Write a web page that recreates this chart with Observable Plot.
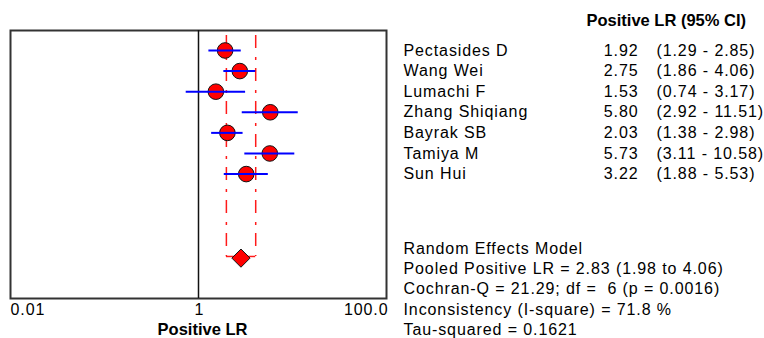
<!DOCTYPE html>
<html>
<head>
<meta charset="utf-8">
<script src="https://cdn.jsdelivr.net/npm/d3@7"></script>
<script src="https://cdn.jsdelivr.net/npm/@observablehq/plot@0.6"></script>
<style>
  html, body { margin: 0; padding: 0; background: #fff; }
  svg text { white-space: pre; }
  g[font-weight="bold"] text { letter-spacing: 0; }
</style>
</head>
<body>
<div id="chart"></div>
<script>
// ---- data ----
const studyNames = ["Pectasides D", "Wang Wei", "Lumachi F", "Zhang Shiqiang", "Bayrak SB", "Tamiya M", "Sun Hui"];
const lrValues   = [1.92, 2.75, 1.53, 5.80, 2.03, 5.73, 3.22];
const ciLower    = [1.29, 1.86, 0.74, 2.92, 1.38, 3.11, 1.88];
const ciUpper    = [2.85, 4.06, 3.17, 11.51, 2.98, 10.58, 5.53];

const pooledLR = 2.83, pooledLo = 1.98, pooledHi = 4.06;
const cochranQ = 21.29, cochranDf = 6, cochranP = 0.0016;
const iSquare = 71.8, tauSquared = 0.1621;

const tickValues = [0.01, 1, 100];
const tickLabels = ["0.01", "1", "100.0"];
const xLabel = "Positive LR";
const headerLabel = "Positive LR (95% CI)";

// ---- derived tables ----
const studies = studyNames.map((name, i) => ({
  name, i, lr: lrValues[i], lo: ciLower[i], hi: ciUpper[i],
  val: lrValues[i].toFixed(2),
  ci: `(${ciLower[i].toFixed(2)} - ${ciUpper[i].toFixed(2)})`
}));
const pooledRow = 10;
const statLines = [
  "Random Effects Model",
  `Pooled Positive LR = ${pooledLR.toFixed(2)} (${pooledLo.toFixed(2)} to ${pooledHi.toFixed(2)})`,
  `Cochran-Q = ${cochranQ.toFixed(2)}; df =  ${cochranDf} (p = ${cochranP.toFixed(4)})`,
  `Inconsistency (I-square) = ${iSquare.toFixed(1)} %`,
  `Tau-squared = ${tauSquared.toFixed(4)}`
].map((t, k) => ({ t, y: 9.62 + k * 0.985 }));
const ticks = tickValues.map((v, k) => ({ v, label: tickLabels[k] }));

const chart = Plot.plot({
  width: 764,
  height: 338,
  marginLeft: 10,
  marginRight: 378,
  marginTop: 30,
  marginBottom: 40,
  style: { fontFamily: "'Liberation Sans', Arial, sans-serif", fontSize: "16px", letterSpacing: "0.9px", background: "#fff", color: "#000" },
  x: { type: "log", domain: [0.01, 100], axis: null },
  y: { type: "linear", domain: [-0.97, 12.04], reverse: true, axis: null },
  marks: [
    Plot.frame({ stroke: "#333", strokeWidth: 2 }),
    Plot.ruleX([1], { stroke: "#111", strokeWidth: 1.5 }),
    Plot.ruleX([pooledLo, pooledHi], { y1: -0.73, y2: pooledRow, stroke: "#ff1a1a", strokeWidth: 1.5, strokeDasharray: "13,9,3,8" }),
    Plot.ruleY([pooledRow], { x1: pooledLo, x2: pooledHi, stroke: "#ff1a1a", strokeWidth: 1.5 }),
    Plot.dot(studies, { x: "lr", y: "i", r: 7.8, fill: "#ff0000", stroke: "#111", strokeWidth: 1 }),
    Plot.ruleY(studies, { y: "i", x1: "lo", x2: "hi", stroke: "#0000ff", strokeWidth: 2 }),
    Plot.dot([{ x: pooledLR, y: pooledRow + 0.08 }], { x: "x", y: "y", symbol: "diamond2", r: 8.2, fill: "#ff0000", stroke: "#111", strokeWidth: 1 }),
    // x tick labels
    Plot.text(ticks.filter(d => d.v === 0.01), { x: "v", text: "label", frameAnchor: "bottom", dy: 16, textAnchor: "start", fontSize: 16 }),
    Plot.text(ticks.filter(d => d.v === 1), { x: "v", text: "label", frameAnchor: "bottom", dy: 16, dx: 1, textAnchor: "middle", fontSize: 16 }),
    Plot.text(ticks.filter(d => d.v === 100), { x: "v", text: "label", frameAnchor: "bottom", dy: 16, dx: 2, textAnchor: "end", fontSize: 16 }),
    Plot.text([xLabel], { x: () => 1, text: d => d, frameAnchor: "bottom", dy: 36, dx: 4, fontWeight: "bold", fontSize: 16.5 }),
    // right-side table
    Plot.text([headerLabel], { y: () => -1.44, text: d => d, frameAnchor: "right", dx: 200, textAnchor: "start", fontWeight: "bold", fontSize: 16.5 }),
    Plot.text(studies, { y: "i", text: "name", frameAnchor: "right", dx: 17, textAnchor: "start", fontSize: 16 }),
    Plot.text(studies, { y: "i", text: "val", frameAnchor: "right", dx: 252, textAnchor: "end", fontSize: 16 }),
    Plot.text(studies, { y: "i", text: "ci", frameAnchor: "right", dx: 270, textAnchor: "start", fontSize: 16 }),
    Plot.text(statLines, { y: "y", text: "t", frameAnchor: "right", dx: 17, textAnchor: "start", fontSize: 16 })
  ]
});
document.getElementById("chart").appendChild(chart);
</script>
</body>
</html>
